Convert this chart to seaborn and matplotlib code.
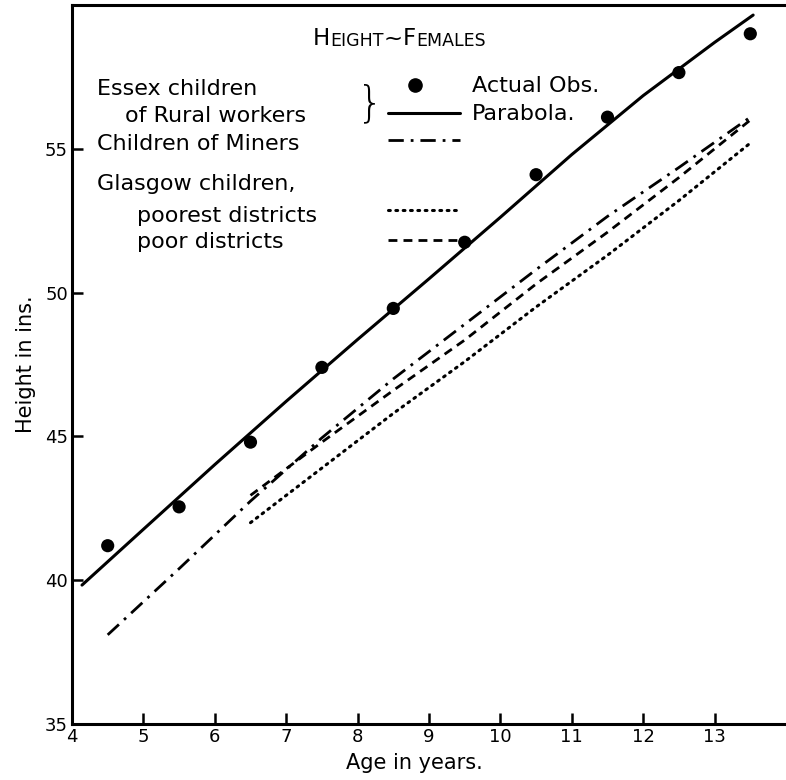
import matplotlib
matplotlib.use("Agg")
import matplotlib.pyplot as plt
import seaborn as sns
import pandas as pd

# Essex children of rural workers: actual observations
obs_age = [4.5, 5.5, 6.5, 7.5, 8.5, 9.5, 10.5, 11.5, 12.5, 13.5]
obs_height = [41.2, 42.55, 44.8, 47.4, 49.45, 51.75, 54.1, 56.1, 57.65, 59.0]

# fitted parabola for the Essex children
par_age = [4.14, 5, 6, 7, 8, 9, 10, 11, 12, 13, 13.54]
par_height = [39.83, 41.77, 44.02, 46.22, 48.37, 50.48, 52.62, 54.8, 56.85, 58.7, 59.65]

# children of miners
miner_age = [4.5, 5.5, 6.5, 7.5, 8.5, 9.5, 10.5, 11.5, 12.5, 13.5]
miner_height = [38.1, 40.4, 42.75, 44.95, 47.0, 48.9, 50.8, 52.65, 54.35, 56.1]

# Glasgow children
glas_age = [6.5, 7.5, 8.5, 9.5, 10.5, 11.5, 12.5, 13.5]
poorest_height = [42.0, 43.9, 45.8, 47.6, 49.5, 51.3, 53.2, 55.2]
poor_height = [42.95, 44.8, 46.6, 48.35, 50.3, 52.1, 54.0, 56.0]

x_ticks = [4, 5, 6, 7, 8, 9, 10, 11, 12, 13]
y_ticks = [35, 40, 45, 50, 55]

sns.set_style("ticks")
plt.rcParams["font.family"] = ["DejaVu Sans"]
plt.rcParams.update({"text.color": "black", "axes.labelcolor": "black",
                     "xtick.color": "black", "ytick.color": "black"})

fig = plt.figure(figsize=(7.86, 7.8), dpi=100)
ax = fig.add_axes([72 / 786, 56 / 780, 714 / 786, 719 / 780])

lw = 2.2
dashdot = (0, (5.5, 2.5, 1, 2.5))
dashed = (0, (3.2, 2.2))
dotted = (0, (0.6, 1.8))

sns.lineplot(x=par_age, y=par_height, ax=ax, color="black", lw=lw)
sns.lineplot(x=miner_age, y=miner_height, ax=ax, color="black", lw=2.0, linestyle=dashdot)
sns.lineplot(x=glas_age, y=poor_height, ax=ax, color="black", lw=2.0, linestyle=dashed)
sns.lineplot(x=glas_age, y=poorest_height, ax=ax, color="black", lw=2.2,
             linestyle=dotted, dash_capstyle="round")
sns.scatterplot(x=obs_age, y=obs_height, ax=ax, color="black", s=90,
                edgecolor="none", zorder=5)

ax.set_xlim(4, 14)
ax.set_ylim(35, 60)
ax.set_xticks(x_ticks)
ax.set_xticklabels([str(t) for t in x_ticks], fontsize=13)
ax.set_yticks(y_ticks)
ax.set_yticklabels([str(t) for t in y_ticks], fontsize=13)
ax.tick_params(direction="in", length=8, width=1.8, pad=3)

for side in ["left", "bottom", "top"]:
    ax.spines[side].set_linewidth(2.2)
    ax.spines[side].set_color("black")
ax.spines["right"].set_visible(False)

ax.set_xlabel("Age in years.", fontsize=15)
ax.xaxis.set_label_coords(0.48, -0.04)
ax.set_ylabel("Height in ins.", fontsize=15)
ax.yaxis.set_label_coords(-0.05, 0.5)

# title in small capitals
big, small = 16.5, 12.5
t = ax.text(0.3375, 0.937, "H", fontsize=big, transform=ax.transAxes, va="bottom")
prev = t
for piece, size in [("EIGHT", small), ("~", big), ("F", big), ("EMALES", small)]:
    prev = ax.annotate(piece, xy=(1, 0), xycoords=prev, fontsize=size, va="bottom")

# hand-laid legend
fs = 16
tr = ax.transAxes
ax.text(0.035, 0.875, "Essex children", fontsize=fs, transform=tr, va="baseline")
ax.text(0.074, 0.837, "of Rural workers", fontsize=fs, transform=tr, va="baseline")
ax.text(0.418, 0.862, "}", fontsize=30, transform=tr, va="center", ha="center",
        fontweight="light")
ax.text(0.035, 0.798, "Children of Miners", fontsize=fs, transform=tr, va="baseline")
ax.text(0.035, 0.743, "Glasgow children,", fontsize=fs, transform=tr, va="baseline")
ax.text(0.091, 0.698, "poorest districts", fontsize=fs, transform=tr, va="baseline")
ax.text(0.091, 0.662, "poor districts", fontsize=fs, transform=tr, va="baseline")

ax.plot([0.48], [0.889], "o", color="black", ms=9.5, transform=tr)
ax.text(0.56, 0.879, "Actual Obs.", fontsize=fs, transform=tr, va="baseline")
ax.plot([0.443, 0.543], [0.850, 0.850], color="black", lw=lw, transform=tr)
ax.text(0.56, 0.840, "Parabola.", fontsize=fs, transform=tr, va="baseline")
ax.plot([0.443, 0.543], [0.812, 0.812], color="black", lw=2.0, linestyle=dashdot,
        transform=tr)
ax.plot([0.443, 0.543], [0.715, 0.715], color="black", lw=2.2, linestyle=dotted,
        dash_capstyle="round", transform=tr)
ax.plot([0.443, 0.543], [0.673, 0.673], color="black", lw=2.0, linestyle=dashed,
        transform=tr)

fig.savefig("out.png", dpi=100, facecolor="white")
